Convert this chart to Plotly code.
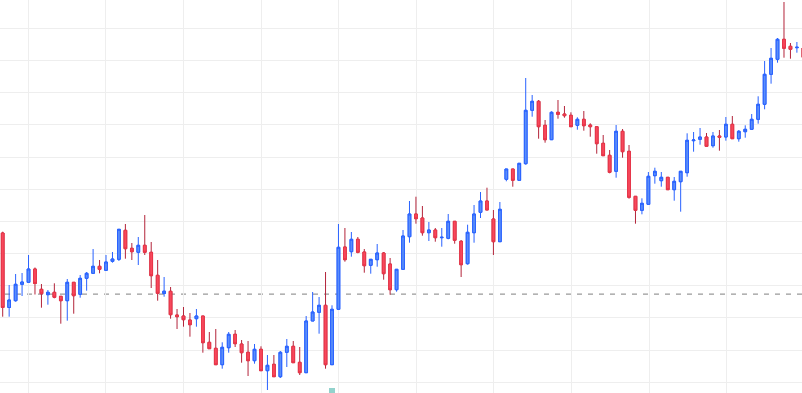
import plotly.graph_objects as go

# ---- data (arbitrary price units) ----
opens = [160, 85.5, 92.3, 108.7, 110.7, 124, 103.7, 98.3, 100.7, 96.7,
         92.3, 110.7, 98.7, 114.7, 119.7, 126.7, 122.7, 131.7, 133.7, 162.7,
         144.7, 140.7, 147.7, 140.7, 117.7, 99.5, 101.7, 78, 77, 73,
         74.3, 77, 50.7, 44.7, 28.3, 45.3, 58.7, 49, 40.7, 32.3,
         43.7, 22.3, 28.7, 16.3, 40.7, 46.7, 30.7, 20.3, 72, 80.7,
         87.7, 28.3, 83.7, 146, 141.3, 153.7, 141, 127.7, 133.3, 140,
         129, 103.3, 123.7, 156.3, 179, 175, 160.3, 163, 155.3, 154.7,
         171.7, 151.7, 129.3, 160.3, 180.7, 192, 174, 151.3, 213.7, 224,
         212.7, 229.3, 282.7, 291.7, 267.7, 253.3, 280.7, 279, 277.7, 267.7,
         273.7, 268, 266.3, 249.7, 237.7, 221.7, 261.7, 241.7, 196.7, 182.7,
         188.7, 217.3, 212.3, 215.7, 203.3, 211.3, 220.3, 252.3, 253.7, 256,
         247.3, 257, 256, 268.7, 254.3, 261.3, 263.7, 273.7, 288.7, 318.7,
         333.7, 353.7, 346.7, 345.3, 345]
highs = [161.3, 108, 119, 120, 138, 125.5, 109, 103, 109.7, 97,
         114, 110.7, 118, 121, 144, 133, 138, 141, 163.7, 169,
         150, 156, 178, 151, 133, 116, 106, 84, 86, 80,
         84, 77, 61, 64, 50.7, 61, 63, 53, 52, 49,
         46.7, 38, 38, 42, 54, 52, 46, 77, 101, 96,
         121, 87.7, 169, 165, 161, 156, 144, 133.7, 149, 141,
         135, 123.7, 163, 192, 196.3, 187, 171, 165, 165, 179,
         171.7, 153, 168.3, 188, 201, 205.3, 183, 191, 224, 224,
         229.7, 315, 298, 293, 273, 281.7, 293, 287, 280.7, 275.7,
         282, 269.7, 266.3, 258, 243, 268, 264, 248, 196.7, 194.7,
         221, 225.3, 221, 215.7, 216, 221.7, 259.7, 261, 265, 260,
         261, 263, 276, 277, 263, 267.7, 279, 296.7, 332, 345,
         355, 391, 350, 351, 346]
lows = [76.3, 76.3, 91.3, 97, 110.3, 98.5, 85.3, 88.3, 94.7, 69.3,
        72.3, 79.3, 95.3, 102.3, 119.7, 119.7, 122.7, 130.3, 132, 134.3,
        133, 128, 138, 105, 92.3, 96.3, 74.3, 64, 66.3, 56.3,
        66.3, 40.3, 44.3, 28.3, 24.3, 40.3, 46, 30.3, 17, 29.3,
        22.3, 3, 16.3, 15, 26, 30.3, 18, 20.3, 72, 59.3,
        24.3, 28.3, 83.7, 131.3, 136.3, 139.7, 120.3, 119.3, 126.3, 113.3,
        98.3, 101.3, 123.7, 150.3, 169.3, 157.3, 152, 151.3, 146.3, 153.7,
        149.3, 116, 128.3, 150.3, 175, 183, 138, 151.3, 211.7, 206.3,
        212.7, 228.3, 276.3, 254.3, 250.3, 253.3, 274.3, 275.3, 266.3, 263.3,
        262.3, 256.3, 239.3, 237.3, 219.7, 215.3, 235.3, 194.3, 169.3, 178.7,
        188.7, 209.3, 206.3, 203.3, 192.3, 181.3, 216.3, 241.3, 248.3, 246.7,
        245.3, 242.3, 252.3, 254.3, 251.3, 255.3, 263.7, 269.3, 283.7, 309.3,
        330.3, 335.3, 334.3, 340.3, 335]
closes = [85.5, 93, 108.7, 111, 124, 109.5, 99.3, 100.7, 95.7, 92.3,
          110.7, 97.3, 114.7, 119.7, 126.7, 123.7, 131, 134, 163.7, 144.3,
          141.3, 147.7, 140.7, 117.3, 99.7, 101.8, 78.3, 76.3, 73.3, 68.3,
          77, 50.3, 44.3, 28.3, 45.7, 58.7, 49.3, 40.3, 32.3, 43.7,
          22.3, 27.7, 16.3, 40.7, 46.7, 30.3, 20.3, 72, 81, 87.7,
          28.3, 83.7, 145.7, 133.3, 153.7, 140.7, 127.3, 133.7, 140, 119.3,
          103.3, 123.7, 157, 179, 174.3, 160.3, 163, 155.3, 155.7, 171.7,
          152.7, 128.3, 160.7, 179, 192, 183, 151.3, 183.7, 224, 212.7,
          229.7, 282.7, 291.7, 266.3, 253.3, 280.7, 278.7, 277.3, 266.3, 273.7,
          267.3, 266.3, 249.3, 237.3, 220.7, 261.7, 241.3, 195.7, 182.7, 189.7,
          216.7, 221.7, 215.7, 203.3, 211.7, 221.7, 252.7, 253, 256, 246.7,
          257, 255.7, 268.7, 254.3, 261.7, 263.7, 273.7, 288.7, 318.7, 334.7,
          353.7, 344.7, 343.7, 345.7, 335.7]
ref_price = 98.8          # dashed reference level
event_index = [51]        # small marker at the bottom
event_value = [2]

# ---- styles ----
UP_LINE, UP_FILL = "#2962ff", "#5b8ef9"
DOWN_LINE, DOWN_FILL, DOWN_WICK = "#e93649", "#f7485c", "#b3243a"
GRID = "#eeeeee"

x = list(range(len(opens)))
body_top = [max(o, c) for o, c in zip(opens, closes)]
body_bot = [min(o, c) for o, c in zip(opens, closes)]

fig = go.Figure()
# wicks (full range)
fig.add_trace(go.Candlestick(
    x=x, open=opens, high=highs, low=lows, close=closes,
    increasing=dict(line=dict(color=UP_LINE, width=1), fillcolor=UP_FILL),
    decreasing=dict(line=dict(color=DOWN_WICK, width=1), fillcolor=DOWN_FILL),
    whiskerwidth=0, hoverinfo="skip", showlegend=False))
# bodies with their own outline colour
fig.add_trace(go.Candlestick(
    x=x, open=opens, high=body_top, low=body_bot, close=closes,
    increasing=dict(line=dict(color=UP_LINE, width=1), fillcolor=UP_FILL),
    decreasing=dict(line=dict(color=DOWN_LINE, width=1), fillcolor=DOWN_FILL),
    whiskerwidth=0, hoverinfo="skip", showlegend=False))
fig.add_trace(go.Scatter(
    x=event_index, y=event_value, mode="markers",
    marker=dict(symbol="square", size=6, color="#92d2cc"),
    hoverinfo="skip", showlegend=False))

fig.add_shape(type="line", xref="paper", x0=0.00623, x1=1, yref="y",
              y0=ref_price, y1=ref_price, layer="below",
              line=dict(color="#999999", width=1.3, dash="5px,6px"))

fig.update_layout(
    width=802, height=393, margin=dict(l=0, r=0, t=0, b=0),
    paper_bgcolor="white", plot_bgcolor="white",
    showlegend=False, boxgap=0.4, boxmode="overlay",
    xaxis=dict(range=[-0.418, 123.79], tickmode="linear", tick0=3.96, dtick=12.02,
               showgrid=True, gridcolor=GRID, gridwidth=1, showticklabels=False,
               zeroline=False, showline=False, rangeslider=dict(visible=False),
               fixedrange=True),
    yaxis=dict(range=[0, 393], tickmode="linear", tick0=10.7, dtick=32.18,
               showgrid=True, gridcolor=GRID, gridwidth=1, showticklabels=False,
               zeroline=False, showline=False, fixedrange=True),
)

fig.write_html("out.html", config={"displayModeBar": False},
               post_script="document.body.style.margin='0';document.body.style.overflow='hidden';")
